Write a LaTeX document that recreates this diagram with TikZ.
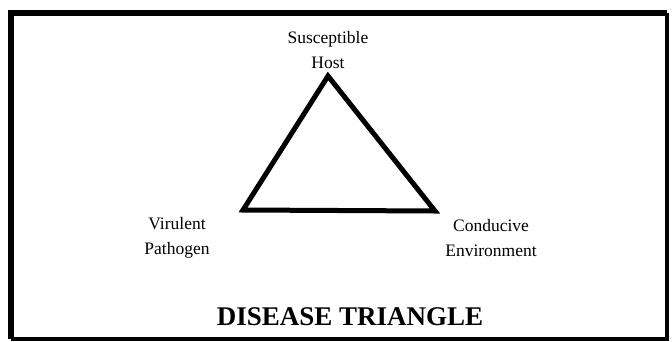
\documentclass[tikz,border=0pt]{standalone}
\usepackage{fontspec}
\setmainfont{Liberation Serif}
\begin{document}
\begin{tikzpicture}[x=1pt,y=-1pt,
  lbl/.style={align=center,font=\fontsize{17.5}{24.5}\selectfont,inner sep=0pt},
  title/.style={font=\fontsize{27}{30}\selectfont\bfseries,inner sep=0pt},
  tri/.style={line width=5pt,line join=miter}]
\useasboundingbox (0,0) rectangle (672,341);
\draw[line width=6pt] (11,338.5) -- (11,12.5) -- (666.5,12.5);
\draw[line width=4pt] (11,338.5) -- (666.5,338.5) -- (666.5,12.5);
\coordinate (H) at (328,76);
\coordinate (P) at (243,210);
\coordinate (E) at (435,211);
\draw[tri] (H) -- (P) -- (E) -- cycle;
\node[lbl] (host) at (328,50) {Susceptible\\Host};
\node[lbl] (path) at (177,238) {Virulent\\Pathogen};
\node[lbl] (env) at (491,238) {Conducive\\Environment};
\node[title] (t) at (350,317) {DISEASE TRIANGLE};
\end{tikzpicture}
\end{document}
